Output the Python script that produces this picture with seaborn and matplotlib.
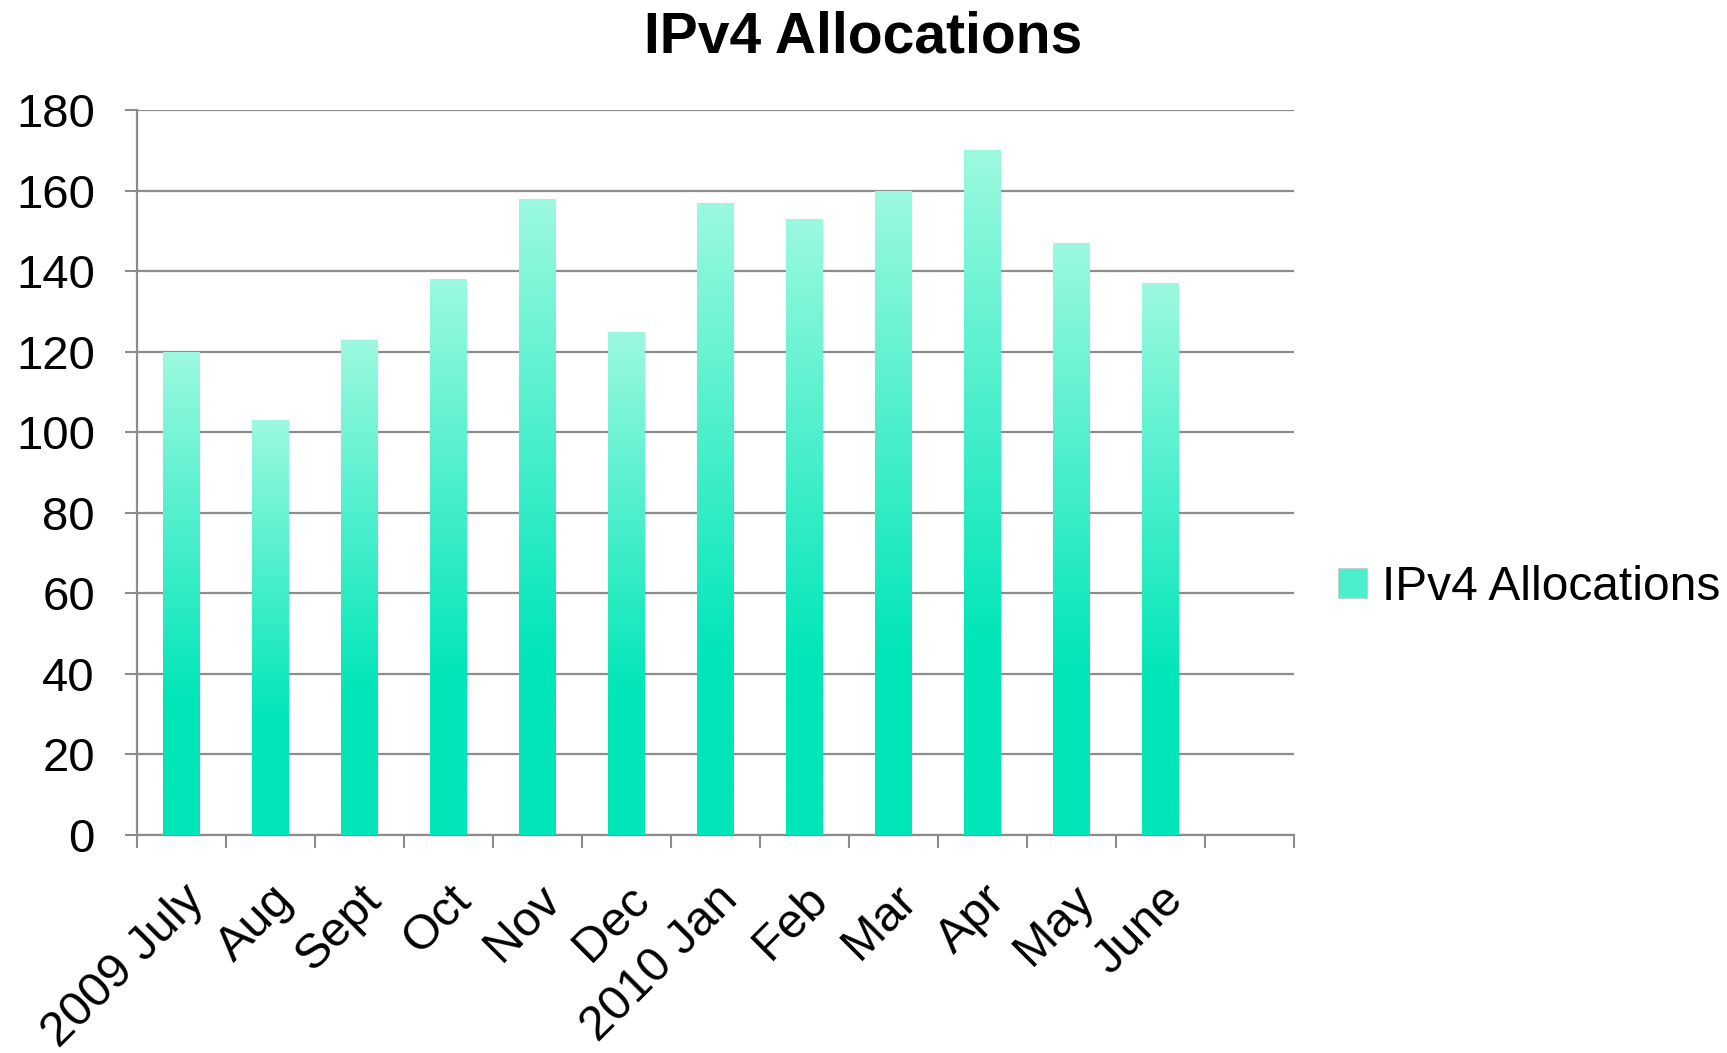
import numpy as np
import pandas as pd
import matplotlib
matplotlib.use('Agg')
import matplotlib.pyplot as plt
import seaborn as sns
from matplotlib.colors import LinearSegmentedColormap
from matplotlib.patches import Patch

# ── DATA ────────────────────────────────────────────────────────────────────
months = ["2009 July", "Aug", "Sept", "Oct", "Nov", "Dec",
          "2010 Jan", "Feb", "Mar", "Apr", "May", "June"]
allocations = [120, 103, 123, 138, 158, 125, 157, 153, 160, 170, 147, 137]
y_ticks = [0, 20, 40, 60, 80, 100, 120, 140, 160, 180]

SERIES = "IPv4 Allocations"
BOTTOM = "#00E6B8"
TOP = "#9CF9E0"
GRID = "#8C8C8C"

df = pd.DataFrame({"month": months, "value": allocations})

sns.set_theme(style="white")
plt.rcParams['font.family'] = ['Liberation Sans', 'DejaVu Sans']
plt.rcParams['text.color'] = 'black'
plt.rcParams['xtick.labelcolor'] = 'black'
plt.rcParams['ytick.labelcolor'] = 'black'

fig = plt.figure(figsize=(17.27, 10.53), dpi=100)
ax = fig.add_axes([0.0791, 0.207, 0.67, 0.6885])

sns.barplot(data=df, x="month", y="value", color=BOTTOM, width=0.41,
            saturation=1, ax=ax, zorder=3)

# gradient fill for each bar
cmap = LinearSegmentedColormap.from_list(
    "grad", [(0.0, BOTTOM), (0.28, BOTTOM), (1.0, TOP)])
grad = np.linspace(0, 1, 256).reshape(-1, 1)
for p in ax.patches:
    x0, y0 = p.get_x(), p.get_y()
    w, h = p.get_width(), p.get_height()
    p.set_edgecolor("#C8C8C8")
    p.set_linewidth(0.8)
    im = ax.imshow(grad, cmap=cmap, aspect="auto", origin="lower",
                   extent=[x0, x0 + w, y0, y0 + h], zorder=3.5)
    im.set_clip_path(p)

ax.set_xlim(-0.5, 12.5)
ax.set_ylim(0, 180)
ax.set_yticks(y_ticks)
ax.set_yticklabels([str(t) for t in y_ticks])

# category boundaries as tick marks, labels at centres
ax.set_xticks(np.arange(-0.5, 13, 1.0))
ax.set_xticklabels([])
ax.set_xticks(np.arange(len(months)), minor=True)
ax.set_xticklabels(months, minor=True, rotation=45, ha="right",
                   rotation_mode="anchor", fontsize=35, fontweight="medium")
ax.tick_params(axis="x", which="minor", length=0, pad=30)
ax.tick_params(axis="x", which="major", length=9, width=1.5, color=GRID,
               direction="out", bottom=True)
ax.tick_params(axis="y", length=9, width=1.5, color=GRID, direction="out",
               left=True, labelsize=34, pad=21)

ax.set_xlabel("")
ax.set_ylabel("")
ax.yaxis.grid(True, color=GRID, linewidth=1.6, zorder=0)
ax.set_axisbelow(True)
for s in ["top", "right"]:
    ax.spines[s].set_visible(False)
for s in ["left", "bottom"]:
    ax.spines[s].set_color(GRID)
    ax.spines[s].set_linewidth(1.6)

fig.text(0.5, 0.9506, SERIES, ha="center", va="baseline",
         fontsize=41, fontweight="bold")

handle = Patch(facecolor="#4CEFCB", edgecolor="#C8C8C8", linewidth=0.5)
fig.legend(handles=[handle], labels=[SERIES], loc="center left",
           bbox_to_anchor=(0.775, 0.442), frameon=False, fontsize=34.5,
           handlelength=0.6, handleheight=0.6, handletextpad=0.3,
           borderpad=0, borderaxespad=0)

plt.savefig("out.png", dpi=100)
plt.close()
